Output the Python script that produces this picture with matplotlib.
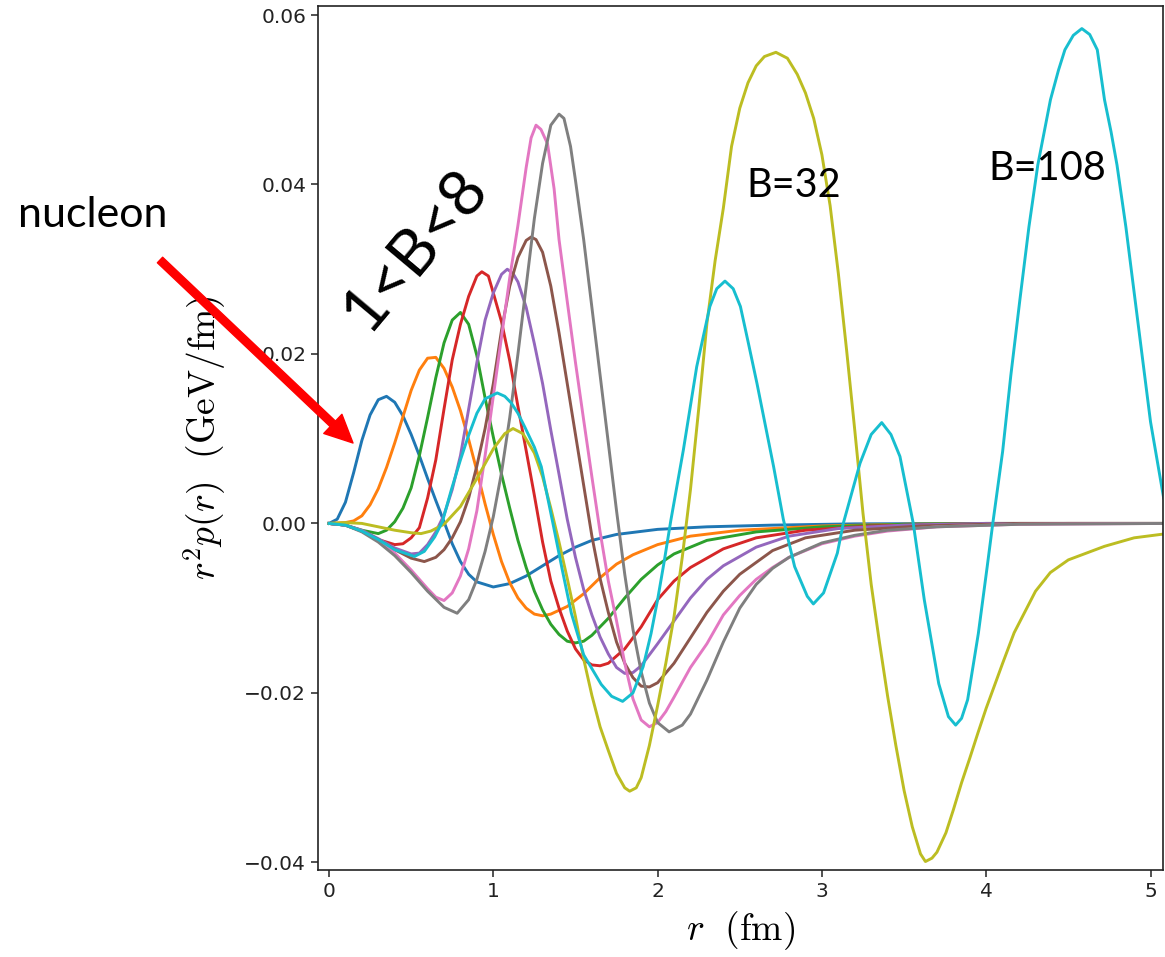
import matplotlib
matplotlib.use("Agg")
import matplotlib.pyplot as plt

#Curves: r in fm, r^2 p(r) in GeV/fm
r_blue = [0, 0.05, 0.1, 0.15, 0.2, 0.25, 0.3, 0.35, 0.4, 0.45, 0.5, 0.55, 0.6, 0.65, 0.7, 0.75, 0.8, 0.85, 0.9,
          1.0, 1.1, 1.2, 1.3, 1.4, 1.5, 1.6, 1.75, 2.0, 2.3, 2.7, 3.2, 4.0, 5.1]
p_blue = [0, 0.0005, 0.0025, 0.0060, 0.0098, 0.0128, 0.0146, 0.0150, 0.0143, 0.0127, 0.0105, 0.0080, 0.0053,
          0.0027, 0.0002, -0.0024, -0.0045, -0.0060, -0.0069, -0.0075, -0.0071, -0.0062, -0.0050, -0.0038,
          -0.0028, -0.0020, -0.0013, -0.0007, -0.0004, -0.0002, -0.00005, 0, 0]

r_orange = [0, 0.1, 0.15, 0.2, 0.25, 0.3, 0.35, 0.4, 0.45, 0.5, 0.55, 0.6, 0.65, 0.7, 0.75, 0.8, 0.85, 0.9, 0.95,
            1.0, 1.05, 1.1, 1.15, 1.2, 1.25, 1.3, 1.35, 1.45, 1.55, 1.65, 1.75, 1.85, 2.0, 2.2, 2.5, 3.0, 3.5,
            4.0, 5.1]
p_orange = [0, 0.0001, 0.0003, 0.0009, 0.0022, 0.0041, 0.0066, 0.0095, 0.0126, 0.0157, 0.0181, 0.0195, 0.0196,
            0.0183, 0.0161, 0.0133, 0.0099, 0.0062, 0.0023, -0.0013, -0.0045, -0.0070, -0.0088, -0.0100,
            -0.0107, -0.0109, -0.0107, -0.0098, -0.0083, -0.0064, -0.0048, -0.0037, -0.0025, -0.0015, -0.0008,
            -0.0003, -0.0001, 0, 0]

r_green = [0, 0.1, 0.2, 0.3, 0.35, 0.4, 0.45, 0.5, 0.55, 0.6, 0.65, 0.7, 0.75, 0.8, 0.85, 0.9, 0.95, 1.0, 1.05,
           1.1, 1.15, 1.2, 1.25, 1.3, 1.35, 1.4, 1.45, 1.5, 1.55, 1.6, 1.7, 1.8, 1.9, 2.0, 2.1, 2.3, 2.6, 3.0,
           3.5, 4.0, 5.1]
p_green = [0, -0.0002, -0.0008, -0.0012, -0.0008, 0.0002, 0.0018, 0.0042, 0.0080, 0.0125, 0.0172, 0.0213,
           0.0240, 0.0249, 0.0235, 0.0198, 0.0148, 0.0102, 0.0058, 0.0018, -0.0020, -0.0052, -0.0080, -0.0102,
           -0.0119, -0.0131, -0.0139, -0.0141, -0.0139, -0.0132, -0.0112, -0.0088, -0.0066, -0.0049, -0.0036,
           -0.0020, -0.0010, -0.0004, -0.0001, 0, 0]

r_red = [0, 0.1, 0.2, 0.3, 0.4, 0.45, 0.5, 0.55, 0.6, 0.65, 0.7, 0.75, 0.8, 0.85, 0.9, 0.93, 0.97, 1.0, 1.05,
         1.1, 1.15, 1.2, 1.25, 1.3, 1.35, 1.4, 1.45, 1.5, 1.55, 1.6, 1.65, 1.7, 1.8, 1.9, 2.0, 2.1, 2.2, 2.4,
         2.6, 2.9, 3.3, 3.8, 4.5, 5.1]
p_red = [0, -0.0002, -0.0009, -0.0019, -0.0025, -0.0024, -0.0017, -0.0005, 0.0030, 0.0075, 0.0135, 0.0193,
         0.0235, 0.0268, 0.0292, 0.0297, 0.0292, 0.0272, 0.0238, 0.0192, 0.0138, 0.0086, 0.0033, -0.0022,
         -0.0068, -0.0100, -0.0127, -0.0148, -0.0161, -0.0167, -0.0168, -0.0165, -0.0148, -0.0122, -0.0090,
         -0.0068, -0.0052, -0.0030, -0.0017, -0.0008, -0.0003, -0.0001, 0, 0]

r_purple = [0, 0.1, 0.2, 0.3, 0.4, 0.5, 0.55, 0.6, 0.65, 0.7, 0.75, 0.8, 0.85, 0.9, 0.95, 1.0, 1.05, 1.085,
            1.12, 1.15, 1.2, 1.25, 1.3, 1.35, 1.4, 1.45, 1.5, 1.55, 1.6, 1.65, 1.7, 1.75, 1.8, 1.85, 1.9, 2.0,
            2.1, 2.2, 2.3, 2.4, 2.6, 2.8, 3.1, 3.5, 4.0, 5.1]
p_purple = [0, -0.0002, -0.0008, -0.0018, -0.0029, -0.0036, -0.0035, -0.0025, -0.0010, 0.0010, 0.0040,
            0.0080, 0.0135, 0.0190, 0.0240, 0.0272, 0.0294, 0.0300, 0.0295, 0.0285, 0.0255, 0.0212, 0.0165,
            0.0110, 0.0058, 0.0005, -0.0040, -0.0078, -0.0108, -0.0134, -0.0154, -0.0170, -0.0177, -0.0176,
            -0.0168, -0.0142, -0.0115, -0.0088, -0.0066, -0.0050, -0.0028, -0.0015, -0.0006, -0.0002, 0, 0]

r_brown = [0, 0.1, 0.2, 0.3, 0.4, 0.5, 0.58, 0.65, 0.7, 0.75, 0.8, 0.85, 0.9, 0.95, 1.0, 1.05, 1.1, 1.15,
           1.2, 1.23, 1.26, 1.3, 1.35, 1.4, 1.45, 1.5, 1.55, 1.6, 1.65, 1.7, 1.75, 1.8, 1.85, 1.9, 1.95, 2.0,
           2.1, 2.2, 2.3, 2.4, 2.5, 2.7, 2.9, 3.2, 3.6, 4.2, 5.1]
p_brown = [0, -0.0002, -0.0009, -0.0019, -0.0031, -0.0041, -0.0045, -0.0040, -0.0031, -0.0017, 0.0002,
           0.0030, 0.0068, 0.0112, 0.0165, 0.0228, 0.0280, 0.0314, 0.0334, 0.0338, 0.0335, 0.0320, 0.0280,
           0.0225, 0.0165, 0.0105, 0.0045, -0.0015, -0.0065, -0.0105, -0.0140, -0.0165, -0.0182, -0.0192,
           -0.0193, -0.0188, -0.0165, -0.0135, -0.0105, -0.0080, -0.0060, -0.0032, -0.0017, -0.0008, -0.0003,
           0, 0]

r_pink = [0, 0.1, 0.2, 0.3, 0.4, 0.5, 0.6, 0.65, 0.7, 0.75, 0.8, 0.85, 0.9, 0.95, 1.0, 1.05, 1.1, 1.15, 1.2,
          1.23, 1.26, 1.29, 1.33, 1.37, 1.4, 1.45, 1.5, 1.55, 1.6, 1.65, 1.7, 1.75, 1.8, 1.85, 1.9, 1.95, 2.0,
          2.05, 2.1, 2.2, 2.3, 2.4, 2.5, 2.6, 2.7, 2.8, 3.0, 3.2, 3.4, 3.7, 4.2, 5.1]
p_pink = [0, -0.0002, -0.0009, -0.0020, -0.0035, -0.0055, -0.0077, -0.0087, -0.0091, -0.0082, -0.0062,
          -0.0030, 0.0015, 0.0080, 0.0150, 0.0220, 0.0290, 0.0352, 0.0420, 0.0455, 0.0470, 0.0465, 0.0448,
          0.0395, 0.0335, 0.0262, 0.0190, 0.0122, 0.0055, -0.0010, -0.0068, -0.0115, -0.0165, -0.0207,
          -0.0232, -0.0240, -0.0235, -0.0222, -0.0205, -0.0170, -0.0142, -0.0108, -0.0085, -0.0066, -0.0052,
          -0.0040, -0.0024, -0.0015, -0.0009, -0.0004, -0.0001, 0]

r_gray = [0, 0.1, 0.2, 0.3, 0.4, 0.5, 0.6, 0.7, 0.78, 0.85, 0.9, 0.95, 1.0, 1.05, 1.1, 1.15, 1.2, 1.25, 1.3,
          1.35, 1.4, 1.43, 1.47, 1.5, 1.55, 1.6, 1.65, 1.7, 1.75, 1.8, 1.85, 1.9, 1.95, 2.0, 2.07, 2.15, 2.2,
          2.3, 2.4, 2.5, 2.6, 2.7, 2.8, 3.0, 3.2, 3.4, 3.7, 4.2, 5.1]
p_gray = [0, -0.0002, -0.0010, -0.0022, -0.0038, -0.0058, -0.0080, -0.0099, -0.0106, -0.0090, -0.0066,
          -0.0033, 0.0008, 0.0060, 0.0125, 0.0200, 0.0280, 0.0360, 0.0425, 0.0470, 0.0483, 0.0478, 0.0445,
          0.0405, 0.0335, 0.0255, 0.0175, 0.0095, 0.0015, -0.0060, -0.0125, -0.0175, -0.0212, -0.0235,
          -0.0246, -0.0238, -0.0225, -0.0185, -0.0140, -0.0100, -0.0072, -0.0053, -0.0040, -0.0023, -0.0014,
          -0.0008, -0.0004, -0.0001, 0]

#B=32
r_olive = [0, 0.1, 0.2, 0.3, 0.4, 0.5, 0.56, 0.62, 0.7, 0.8, 0.9, 1.0, 1.07, 1.12, 1.18, 1.25, 1.3, 1.35, 1.4,
           1.45, 1.5, 1.55, 1.6, 1.65, 1.7, 1.75, 1.8, 1.83, 1.87, 1.9, 1.95, 2.0, 2.05, 2.1, 2.15, 2.2, 2.25,
           2.3, 2.35, 2.4, 2.45, 2.5, 2.55, 2.6, 2.65, 2.72, 2.79, 2.85, 2.9, 2.95, 3.0, 3.05, 3.1, 3.15, 3.2,
           3.25, 3.3, 3.35, 3.4, 3.45, 3.5, 3.55, 3.6, 3.63, 3.67, 3.7, 3.755, 3.8, 3.85, 3.9, 3.95, 4.0, 4.1,
           4.17, 4.3, 4.39, 4.5, 4.72, 4.9, 5.1]
p_olive = [0, 0.0001, 0.0000, -0.0004, -0.0008, -0.0011, -0.0012, -0.0009, -0.0001, 0.0020, 0.0053, 0.0088,
           0.0106, 0.0112, 0.0106, 0.0083, 0.0055, 0.0018, -0.0022, -0.0065, -0.0110, -0.0160, -0.0203,
           -0.0240, -0.0268, -0.0295, -0.0312, -0.0316, -0.0312, -0.0300, -0.0262, -0.0215, -0.0165, -0.0110,
           -0.0040, 0.0040, 0.0135, 0.0236, 0.0310, 0.0372, 0.0445, 0.0490, 0.0520, 0.0540, 0.0551, 0.0556,
           0.0549, 0.0530, 0.0508, 0.0478, 0.0435, 0.0375, 0.0295, 0.0205, 0.0110, 0.0012, -0.0072, -0.0140,
           -0.0204, -0.0262, -0.0315, -0.0358, -0.0390, -0.0399, -0.0395, -0.0388, -0.0365, -0.0338, -0.0306,
           -0.0277, -0.0247, -0.0218, -0.0165, -0.0129, -0.0080, -0.0058, -0.0043, -0.0027, -0.0017, -0.0012]

#B=108
r_cyan = [0, 0.1, 0.2, 0.3, 0.4, 0.52, 0.58, 0.643, 0.69, 0.745, 0.8, 0.846, 0.9, 0.95, 1.024, 1.07, 1.11,
          1.15, 1.191, 1.25, 1.292, 1.363, 1.42, 1.475, 1.55, 1.657, 1.72, 1.787, 1.85, 1.912, 1.96, 2.0, 2.04,
          2.08, 2.157, 2.238, 2.318, 2.36, 2.41, 2.46, 2.504, 2.55, 2.605, 2.706, 2.765, 2.834, 2.911, 2.948,
          3.01, 3.094, 3.13, 3.232, 3.3, 3.364, 3.42, 3.475, 3.556, 3.623, 3.711, 3.77, 3.814, 3.85, 3.887,
          3.952, 4.006, 4.04, 4.1, 4.15, 4.205, 4.26, 4.314, 4.391, 4.44, 4.479, 4.53, 4.582, 4.63, 4.676,
          4.72, 4.76, 4.796, 4.85, 4.906, 5.0, 5.08]
p_cyan = [0, -0.0002, -0.0009, -0.0019, -0.0031, -0.0039, -0.0033, -0.0016, 0.0002, 0.0040, 0.0075, 0.0102,
          0.0130, 0.0147, 0.0154, 0.0150, 0.0142, 0.0130, 0.0114, 0.0090, 0.0067, 0.0, -0.0055, -0.0106,
          -0.0155, -0.0190, -0.0204, -0.0210, -0.0200, -0.0169, -0.0130, -0.0090, -0.0045, 0.0003, 0.0087,
          0.0185, 0.0256, 0.0277, 0.0286, 0.0277, 0.0256, 0.0215, 0.0165, 0.0067, 0.0005, -0.0051, -0.0086,
          -0.0095, -0.0082, -0.0035, 0.0, 0.0071, 0.0105, 0.0119, 0.0105, 0.0079, 0.0, -0.0090, -0.0189,
          -0.0228, -0.0238, -0.0230, -0.0208, -0.0130, -0.0051, 0.0, 0.0085, 0.0175, 0.0264, 0.0350, 0.0423,
          0.0500, 0.0535, 0.0559, 0.0576, 0.0584, 0.0577, 0.0559, 0.0500, 0.0462, 0.0423, 0.0350, 0.0264,
          0.0120, 0.0030]

curves = [(r_blue, p_blue), (r_orange, p_orange), (r_green, p_green), (r_red, p_red),
          (r_purple, p_purple), (r_brown, p_brown), (r_pink, p_pink), (r_gray, p_gray),
          (r_olive, p_olive), (r_cyan, p_cyan)]

W, H = 1165, 957
plt.rcParams['mathtext.fontset'] = 'cm'

fig = plt.figure(figsize=(W / 100, H / 100), dpi=100)
ax = fig.add_axes([318 / W, 1 - 870 / H, (1163 - 318) / W, (870 - 5.7) / H])

#Plot each curve with the default colour cycle
for r, p in curves:
    ax.plot(r, p, lw=2.1)

ax.set_xlim(-0.067, 5.076)
ax.set_ylim(-0.0409, 0.0611)
ax.set_xticks([0, 1, 2, 3, 4, 5])
ax.set_yticks([-0.04, -0.02, 0.0, 0.02, 0.04, 0.06])
ax.tick_params(labelsize=14.5, length=5, width=1.1, colors="#222222")
for s in ax.spines.values():
    s.set_linewidth(1.2)
    s.set_color("#222222")

ax.set_xlabel(r"$r\ \ (\mathrm{fm})$", fontsize=27, labelpad=6)
ax.set_ylabel(r"$r^2p(r)\ \ (\mathrm{GeV/fm})$", fontsize=27, labelpad=12)

#Slide annotations
fig.text(18 / W, 1 - 227 / H, "nucleon", family="Lato", fontsize=31, va="baseline")
fig.text(746 / W, 1 - 197 / H, "B=32", family="Lato", fontsize=28.5, va="baseline")
fig.text(988 / W, 1 - 180 / H, "B=108", family="Lato", fontsize=28.5, va="baseline")
fig.text(415 / W, 1 - 250 / H, "1<B<8", family="Lato", fontsize=46, rotation=50,
         ha="center", va="center", rotation_mode="anchor")

ax.annotate("", xy=(353, H - 443), xytext=(160, H - 260), xycoords="figure pixels",
            textcoords="figure pixels",
            arrowprops=dict(facecolor="red", edgecolor="red", width=5.5, headwidth=19,
                            headlength=20, shrink=0))

fig.savefig("out.png", dpi=100)
